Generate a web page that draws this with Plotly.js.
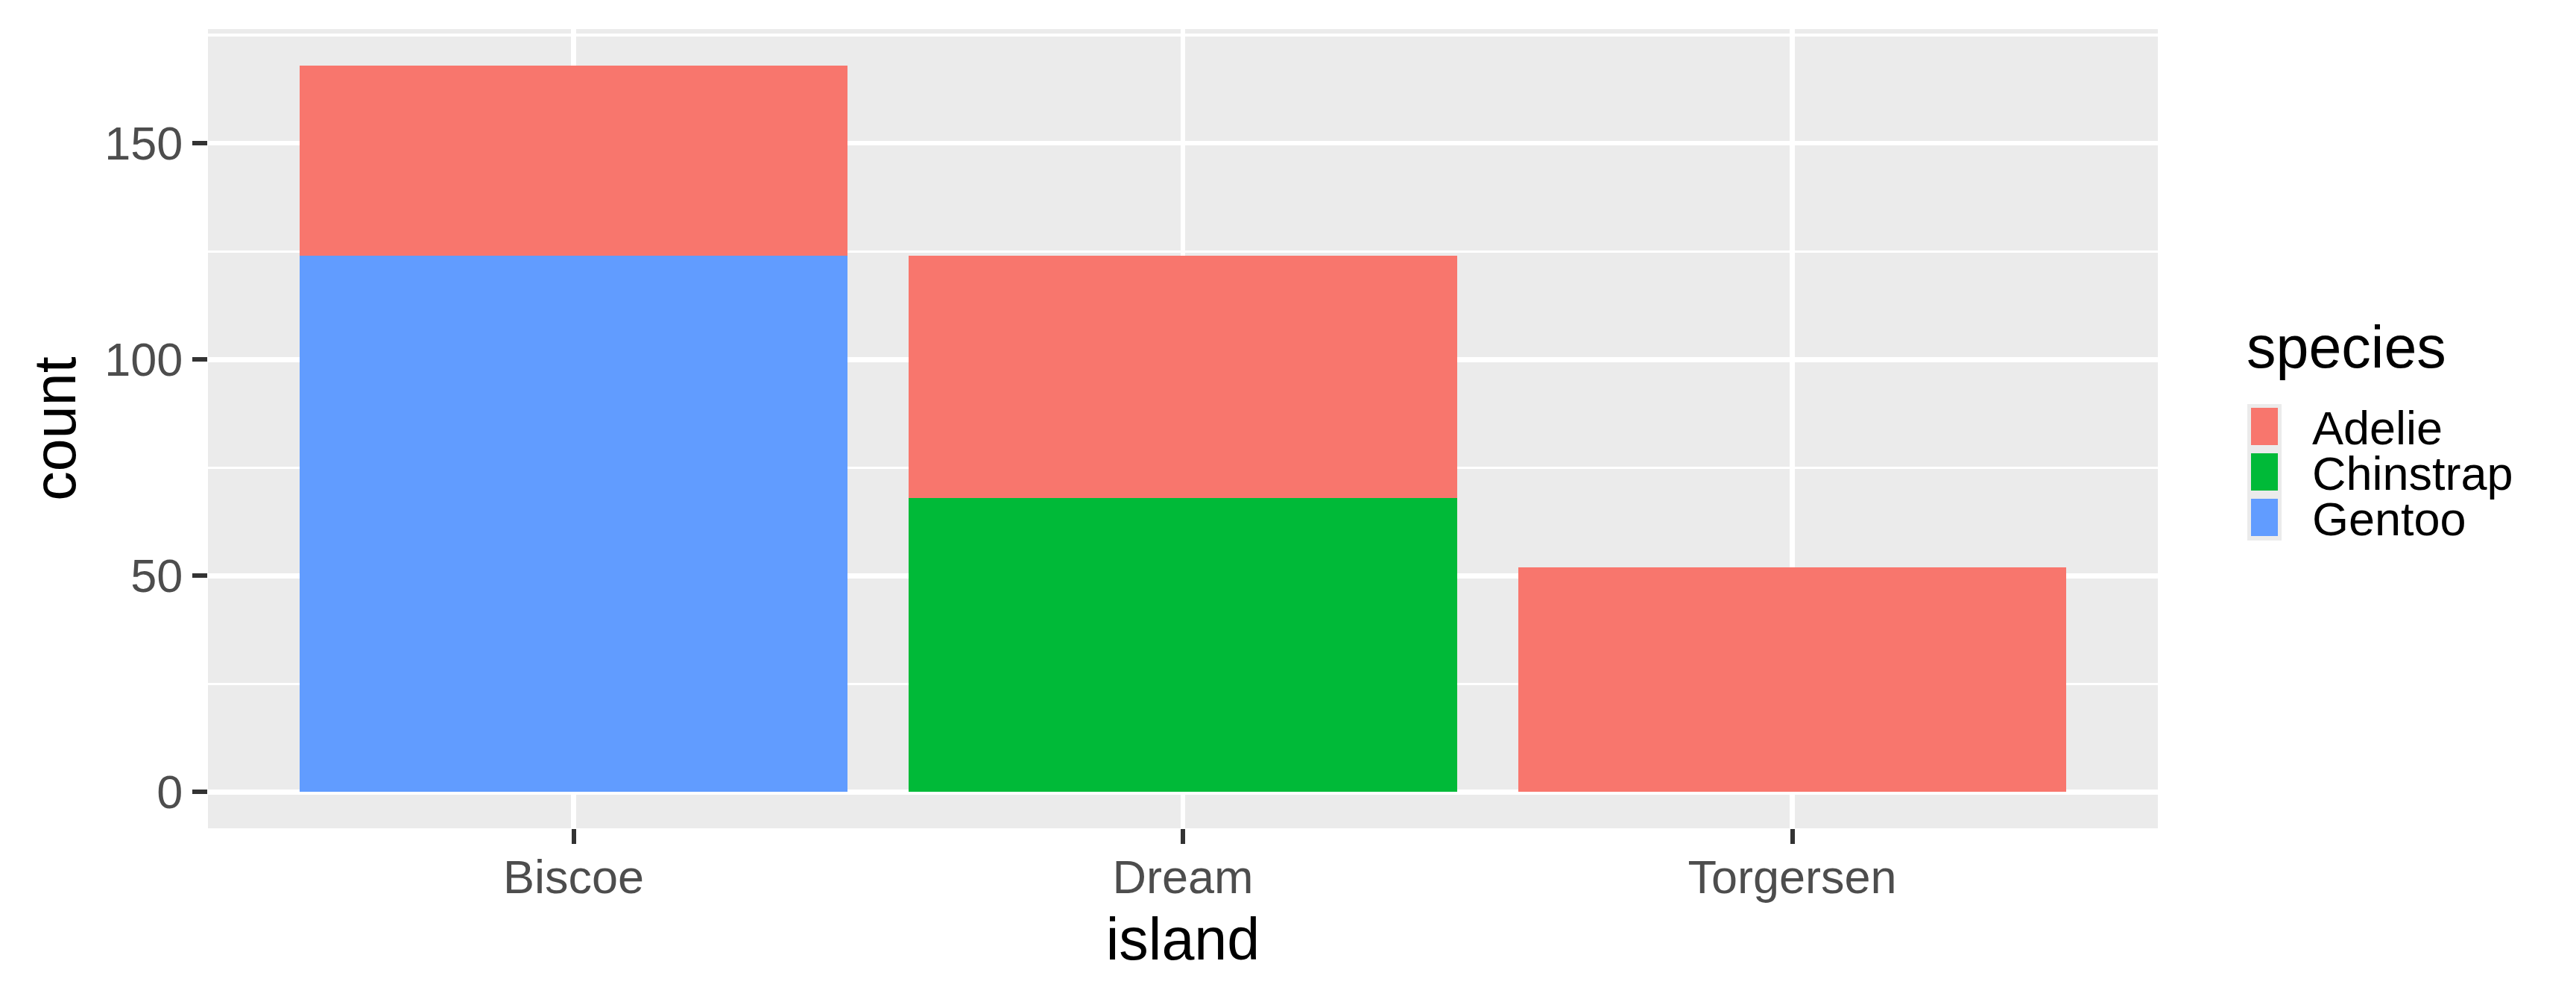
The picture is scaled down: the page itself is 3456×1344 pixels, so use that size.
<!DOCTYPE html>
<html>
<head>
<meta charset="utf-8">
<script src="https://cdn.plot.ly/plotly-3.0.1.min.js"></script>
<style>html,body{margin:0;padding:0;background:#fff;}#chart{width:3456px;height:1344px;}</style>
</head>
<body>
<div id="chart"></div>
<script>
// ---- data ----
const islands = ["Biscoe", "Dream", "Torgersen"];
const species = ["Adelie", "Chinstrap", "Gentoo"];
const adelie = [44, 56, 52];
const chinstrap = [0, 68, 0];
const gentoo = [124, 0, 0];
const yTicks = [0, 50, 100, 150];
const speciesColors = ["#F8766D", "#00BA38", "#619CFF"];

// ---- geometry (pixels) ----
const W = 3456, H = 1344;
const L = 279, R = 2895, T = 39, B = 1111;
const FONT = "Liberation Sans, Arial, sans-serif";
const px2x = p => (p - L) / (R - L);
const px2y = p => (B - p) / (B - T);

const values = {Adelie: adelie, Chinstrap: chinstrap, Gentoo: gentoo};
// ggplot stacks first level on top: draw bottom-most first
const order = ["Gentoo", "Chinstrap", "Adelie"];
const traces = order.map(s => ({
  type: "bar",
  name: s,
  x: islands,
  y: values[s],
  width: 0.9,
  marker: {color: speciesColors[species.indexOf(s)], line: {width: 0}},
  showlegend: false,
  hoverinfo: "x+y+name"
}));

// ---- manual legend (ggplot style) ----
const shapes = [];
const annotations = [];
const keyX0 = 3015, keyX1 = 3061, keyTop = 542, keyH = 61;
shapes.push({type: "rect", xref: "paper", yref: "paper",
  x0: px2x(keyX0), x1: px2x(keyX1), y0: px2y(keyTop + keyH * species.length), y1: px2y(keyTop),
  fillcolor: "#EBEBEB", line: {width: 0}, layer: "above"});
species.forEach((s, i) => {
  const top = keyTop + i * keyH;
  shapes.push({type: "rect", xref: "paper", yref: "paper",
    x0: px2x(keyX0 + 5), x1: px2x(keyX1 - 5), y0: px2y(top + keyH - 6), y1: px2y(top + 5),
    fillcolor: speciesColors[i], line: {width: 0}, layer: "above"});
  annotations.push({xref: "paper", yref: "paper", x: px2x(3100), y: px2y(top + keyH / 2 + 1),
    xanchor: "left", yanchor: "middle", showarrow: false, text: s,
    font: {family: FONT, size: 63, color: "#000000"}});
});
annotations.push({xref: "paper", yref: "paper", x: px2x(3012), y: px2y(466),
  xanchor: "left", yanchor: "middle", showarrow: false, text: "species",
  font: {family: FONT, size: 79, color: "#000000"}});

const layout = {
  width: W, height: H,
  margin: {l: L, r: W - R, t: T, b: H - B, pad: 0},
  paper_bgcolor: "#FFFFFF",
  plot_bgcolor: "#EBEBEB",
  barmode: "stack",
  font: {family: FONT},
  showlegend: false,
  xaxis: {
    type: "category",
    range: [-0.6, 2.6],
    showgrid: true, gridcolor: "#FFFFFF", gridwidth: 6.7,
    zeroline: false, showline: false,
    ticks: "outside", ticklen: 20, tickwidth: 6, tickcolor: "#333333",
    ticklabelstandoff: -10,
    tickfont: {family: FONT, size: 63, color: "#4D4D4D"},
    title: {text: "island", font: {family: FONT, size: 79, color: "#000000"}, standoff: 22},
    automargin: false, fixedrange: true
  },
  yaxis: {
    range: [-8.4, 176.4],
    tickmode: "array", tickvals: yTicks, ticktext: yTicks.map(String),
    showgrid: true, gridcolor: "#FFFFFF", gridwidth: 6.7,
    minor: {tickmode: "array", tickvals: [25, 75, 125, 175], showgrid: true, gridcolor: "#FFFFFF", gridwidth: 3.3, ticks: ""},
    zeroline: false, showline: false,
    ticks: "outside", ticklen: 20, tickwidth: 6, tickcolor: "#333333",
    tickfont: {family: FONT, size: 63, color: "#4D4D4D"},
    title: {text: "count", font: {family: FONT, size: 79, color: "#000000"}, standoff: 12},
    automargin: false, fixedrange: true
  },
  shapes: shapes,
  annotations: annotations
};

Plotly.newPlot("chart", traces, layout, {displayModeBar: false, staticPlot: true});
</script>
</body>
</html>
